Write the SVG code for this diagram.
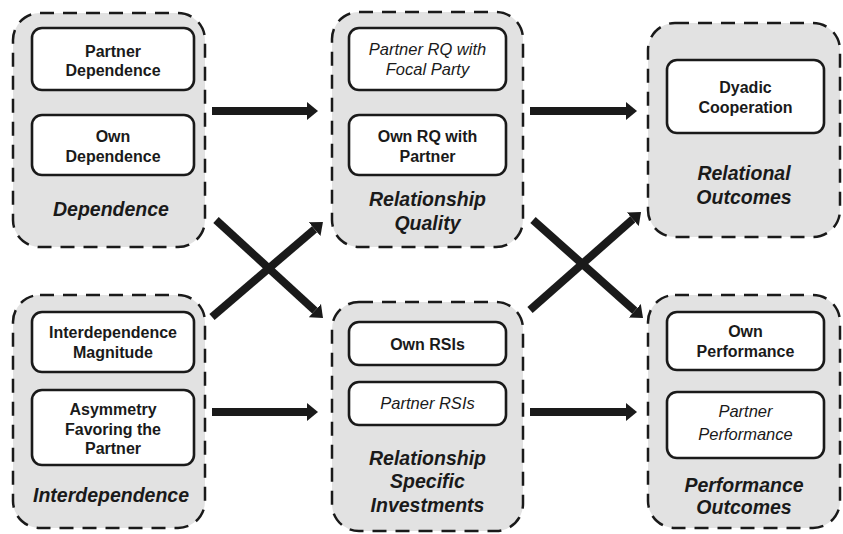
<svg xmlns="http://www.w3.org/2000/svg" width="843" height="534" viewBox="0 0 843 534">
<style>
.grp{fill:#e2e2e2;stroke:#1a1a1a;stroke-width:2.5;stroke-dasharray:14 9}
.box{fill:#fff;stroke:#1a1a1a;stroke-width:2.6}
text{font-family:"Liberation Sans",Arial,Helvetica,sans-serif;fill:#1a1a1a;text-anchor:middle}
.b{font-size:16px;font-weight:bold}
.i{font-size:16.5px;font-style:italic}
.g{font-size:19.5px;font-weight:bold;font-style:italic}
.arr{stroke:#1a1a1a;stroke-width:8;fill:none;marker-end:url(#ah)}
</style>
<defs>
<marker id="ah" viewBox="0 0 10 10" refX="0" refY="5" markerUnits="userSpaceOnUse" markerWidth="11" markerHeight="18" orient="auto" preserveAspectRatio="none">
<path d="M0,0 L10,5 L0,10 z" fill="#1a1a1a"/>
</marker>
</defs>
<g id="connectors">
<line class="arr" x1="212" y1="111" x2="307" y2="111"/>
<line class="arr" x1="530" y1="111" x2="626" y2="111"/>
<line class="arr" x1="212" y1="412" x2="307" y2="412"/>
<line class="arr" x1="530" y1="412" x2="626" y2="412"/>
<line class="arr" x1="216" y1="220" x2="314.9" y2="310.6"/>
<line class="arr" x1="212" y1="317" x2="314.6" y2="229.2"/>
<line class="arr" x1="533" y1="220" x2="634.8" y2="310.7"/>
<line class="arr" x1="530" y1="310" x2="632.8" y2="219.3"/>
</g>
<g id="dependence">
<rect class="grp" x="13" y="13" width="192" height="234" rx="27"/>
<g id="partner-dependence"><rect class="box" x="32" y="28" width="162" height="62" rx="10"/>
<text class="b" x="113" y="57">Partner</text><text class="b" x="113" y="76">Dependence</text></g>
<g id="own-dependence"><rect class="box" x="32" y="115" width="162" height="60" rx="10"/>
<text class="b" x="113" y="142">Own</text><text class="b" x="113" y="162">Dependence</text></g>
<text class="g" x="111" y="216">Dependence</text>
</g>
<g id="relationship-quality">
<rect class="grp" x="332" y="12" width="191" height="235" rx="27"/>
<g id="partner-rq"><rect class="box" x="349" y="28" width="157" height="62" rx="10"/>
<text class="i" x="427.5" y="55">Partner RQ with</text><text class="i" x="427.5" y="75">Focal Party</text></g>
<g id="own-rq"><rect class="box" x="349" y="115" width="157" height="60" rx="10"/>
<text class="b" x="427.5" y="142">Own RQ with</text><text class="b" x="427.5" y="162">Partner</text></g>
<text class="g" x="427.5" y="206">Relationship</text><text class="g" x="427.5" y="230">Quality</text>
</g>
<g id="relational-outcomes">
<rect class="grp" x="648" y="23" width="192" height="214" rx="27"/>
<g id="dyadic-cooperation"><rect class="box" x="667" y="60" width="157" height="73" rx="10"/>
<text class="b" x="745.5" y="93">Dyadic</text><text class="b" x="745.5" y="113">Cooperation</text></g>
<text class="g" x="744" y="180">Relational</text><text class="g" x="744" y="204">Outcomes</text>
</g>
<g id="interdependence">
<rect class="grp" x="13" y="295" width="192" height="233" rx="27"/>
<g id="interdependence-magnitude"><rect class="box" x="32" y="312" width="162" height="60" rx="10"/>
<text class="b" x="113" y="338">Interdependence</text><text class="b" x="113" y="358">Magnitude</text></g>
<g id="asymmetry"><rect class="box" x="32" y="390" width="162" height="75" rx="10"/>
<text class="b" x="113" y="415">Asymmetry</text><text class="b" x="113" y="435">Favoring the</text><text class="b" x="113" y="454">Partner</text></g>
<text class="g" x="111" y="502">Interdependence</text>
</g>
<g id="relationship-specific-investments">
<rect class="grp" x="332" y="302" width="191" height="229" rx="27"/>
<g id="own-rsis"><rect class="box" x="349" y="322" width="157" height="43" rx="10"/>
<text class="b" x="427.5" y="350">Own RSIs</text></g>
<g id="partner-rsis"><rect class="box" x="349" y="382" width="157" height="43" rx="10"/>
<text class="i" x="427.5" y="409">Partner RSIs</text></g>
<text class="g" x="427.5" y="465">Relationship</text><text class="g" x="427.5" y="488">Specific</text><text class="g" x="427.5" y="512">Investments</text>
</g>
<g id="performance-outcomes">
<rect class="grp" x="648" y="295" width="192" height="233" rx="27"/>
<g id="own-performance"><rect class="box" x="667" y="312" width="157" height="58" rx="10"/>
<text class="b" x="745.5" y="337">Own</text><text class="b" x="745.5" y="357">Performance</text></g>
<g id="partner-performance"><rect class="box" x="667" y="392" width="157" height="66" rx="10"/>
<text class="i" x="745.5" y="417">Partner</text><text class="i" x="745.5" y="440">Performance</text></g>
<text class="g" x="744" y="492">Performance</text><text class="g" x="744" y="514">Outcomes</text>
</g>
</svg>
